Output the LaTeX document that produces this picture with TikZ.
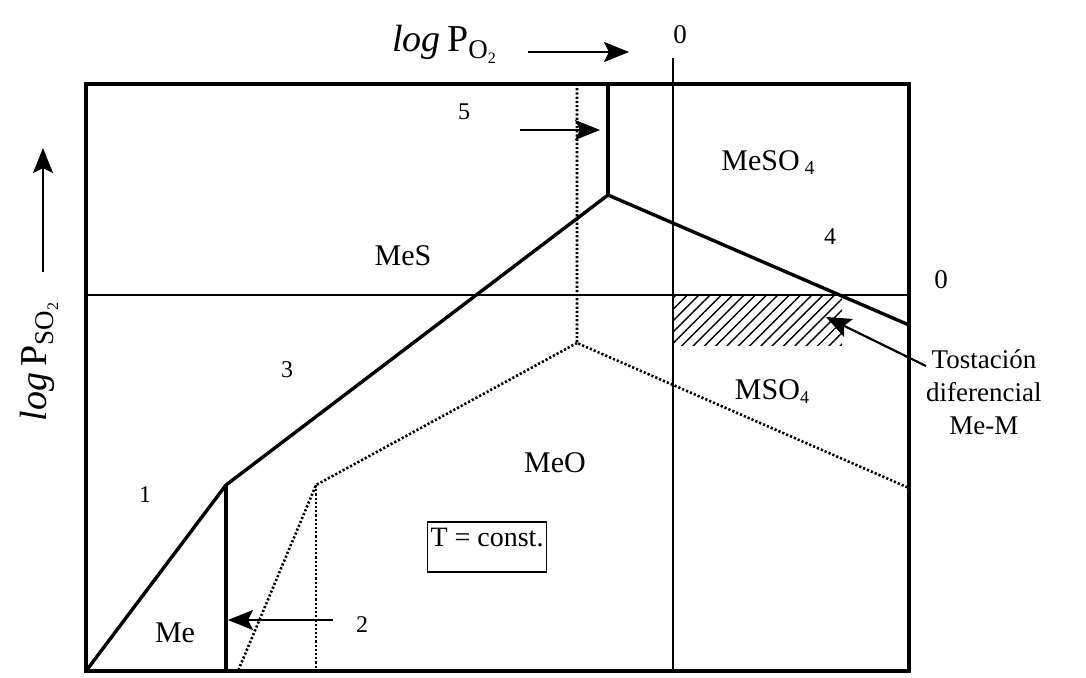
\documentclass[tikz,border=0pt]{standalone}
\usepackage{fontspec}
\setmainfont{Liberation Serif}
\usetikzlibrary{arrows.meta,positioning,patterns.meta}

\begin{document}
\begin{tikzpicture}[x=1pt,y=-1pt,
  lbl/.style={font=\fontsize{30}{34}\selectfont,inner sep=0pt},
  num/.style={font=\fontsize{24}{28}\selectfont,inner sep=0pt},
  axlbl/.style={font=\fontsize{38}{40}\selectfont,inner sep=0pt},
  bound/.style={line width=3.4pt,line join=miter},
  thin0/.style={line width=2.2pt},
  dotline/.style={line width=2.6pt,dash pattern=on 2.2pt off 2pt},
  arr/.style={-{Stealth[length=25pt,width=20pt,inset=5pt]},line width=1.8pt}]
  \useasboundingbox (0,0) rectangle (1086,677);
  % corners and kinks
  \coordinate (bl) at (86,671);
  \coordinate (k1) at (226,485);
  \coordinate (k1b) at (226,671);
  \coordinate (k2) at (608,195);
  \coordinate (k2t) at (608,84);
  \coordinate (r1) at (909,325);
  \coordinate (d1) at (577,343);
  \coordinate (d1t) at (577,84);
  \coordinate (d2) at (316,485);
  \coordinate (d2b) at (316,671);
  \coordinate (d3) at (238,671);
  \coordinate (r2) at (909,488);
  \coordinate (h0l) at (86,295);
  \coordinate (h0r) at (909,295);
  \coordinate (v0t) at (673,58);
  \coordinate (v0b) at (673,671);
  % hatched field
  \fill[pattern={Lines[angle=45,distance=8pt,line width=1.4pt]}] (673,295) rectangle (842,345);
  % zero lines
  \draw[thin0] (h0l) -- (h0r);
  \draw[thin0] (v0t) -- (v0b);
  % dotted boundaries
  \draw[dotline] (d1t) -- (d1) -- (r2);
  \draw[dotline] (d1) -- (d2) -- (d3);
  \draw[dotline] (d2) -- (d2b);
  % solid boundaries
  \draw[bound] (bl) -- (k1) -- (k2) -- (r1);
  \draw[bound] (k1) -- (k1b);
  \draw[bound] (k2) -- (k2t);
  \draw[bound] (86,84) rectangle (909,671);
  % axes
  \node[axlbl,anchor=base] (lpo) at (444,52) {\textit{log}\,P\raisebox{-7pt}{\fontsize{27}{27}\selectfont O\raisebox{-5pt}{\fontsize{16}{16}\selectfont 2}}};
  \coordinate (ao1) at (528,52);
  \coordinate (ao2) at (629,52);
  \draw[arr] (ao1) -- (ao2);
  \node[num,font=\fontsize{27}{30}\selectfont] (zt) at (680,35) {0};
  \node[axlbl,rotate=90,anchor=base] (lps) at (46,362) {\textit{log}\,P\raisebox{-7pt}{\fontsize{27}{27}\selectfont SO\raisebox{-5pt}{\fontsize{16}{16}\selectfont 2}}};
  \coordinate (as1) at (43,272);
  \coordinate (as2) at (43,148);
  \draw[arr] (as1) -- (as2);
  \node[num,font=\fontsize{27}{30}\selectfont] (zr) at (941,280) {0};
  % fields
  \node[lbl] (mes) at (403,256) {MeS};
  \node[lbl] (meo) at (555,463) {MeO};
  \node[lbl] (me) at (175,633) {Me};
  \node[lbl] (meso) at (768,163) {MeSO\,\raisebox{-4pt}{\fontsize{20}{20}\selectfont 4}};
  \node[lbl] (mso) at (772,392) {MSO\raisebox{-4pt}{\fontsize{18}{18}\selectfont 4}};
  \node[lbl,draw,line width=1.8pt,font=\fontsize{28}{30}\selectfont,inner xsep=3pt,inner ysep=4pt,
        text height=20pt,text depth=22pt] (tc) at (487,547) {T = const.};
  % numbers
  \node[num] (n1) at (145,495) {1};
  \node[num] (n2) at (362,625) {2};
  \node[num] (n3) at (287,370) {3};
  \node[num] (n4) at (830,237) {4};
  \node[num] (n5) at (464,112) {5};
  \coordinate (a2s) at (333,620);
  \coordinate (a2e) at (228,620);
  \draw[arr] (a2s) -- (a2e);
  \coordinate (a5s) at (520,130);
  \coordinate (a5e) at (600,130);
  \draw[arr] (a5s) -- (a5e);
  % roasting window
  \node[lbl,align=center,font=\fontsize{27}{33}\selectfont,anchor=north west] (tos) at (926,350) {Tostación\\diferencial\\Me-M};
  \coordinate (tip) at (826,317);
  \draw[arr,line width=2.2pt] ([yshift=-16pt]tos.north west) -- (tip);
\end{tikzpicture}
\end{document}
